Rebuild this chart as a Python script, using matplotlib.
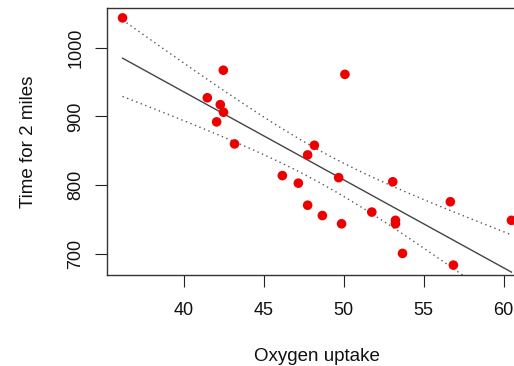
import numpy as np
import matplotlib
matplotlib.use("Agg")
import matplotlib.pyplot as plt

plt.rcParams['font.family'] = ['Liberation Sans', 'DejaVu Sans']

# данные
oxygen = [36.18, 42.48, 41.48, 42.29, 42.49, 42.06, 43.18, 46.17, 47.17, 47.75,
          47.75, 50.08, 48.17, 49.69, 48.67, 49.87, 51.76, 53.07, 53.24, 53.24,
          53.68, 56.67, 56.86, 60.49]
time2mi = [1043, 967, 927, 917, 906, 892, 860, 814, 803, 844,
           771, 961, 858, 811, 756, 744, 761, 805, 749, 744,
           701, 776, 684, 749]
xticks = [40, 45, 50, 55, 60]
yticks = [700, 800, 900, 1000]

x = np.array(oxygen)
y = np.array(time2mi)
n = len(x)

# линейная регрессия и 95% доверительный интервал для среднего
b1, b0 = np.polyfit(x, y, 1)
resid = y - (b0 + b1 * x)
s = np.sqrt(np.sum(resid ** 2) / (n - 2))
sxx = np.sum((x - x.mean()) ** 2)
t_crit = 2.074  # t(0.975, df=22)

xs = np.linspace(x.min(), x.max(), 100)
fit = b0 + b1 * xs
half = t_crit * s * np.sqrt(1 / n + (xs - x.mean()) ** 2 / sxx)

fig = plt.figure(figsize=(5.14, 3.66), dpi=100)
ax = fig.add_axes([107 / 514, 91 / 366, 420 / 514, 267 / 366])

ax.plot(xs, fit, color='#444444', lw=1.0, zorder=2)
ax.plot(xs, fit + half, color='#555555', lw=1.0, ls=(0, (1, 2.5)), zorder=2)
ax.plot(xs, fit - half, color='#555555', lw=1.0, ls=(0, (1, 2.5)), zorder=2)
ax.scatter(x, y, s=48, color='#ee0000', edgecolors='none', zorder=3)

xpad = 0.04 * (x.max() - x.min())
ypad = 0.04 * (y.max() - y.min())
ax.set_xlim(x.min() - xpad, x.max() + xpad)
ax.set_ylim(y.min() - ypad, y.max() + ypad)

ax.set_xticks(xticks)
ax.set_yticks(yticks)
ax.set_yticklabels([str(v) for v in yticks], rotation=90, va='center')
ax.tick_params(length=8.3, width=0.8, labelsize=13, colors='#222222')
ax.tick_params(axis='x', pad=11, labelcolor='#111111')
ax.tick_params(axis='y', pad=8, labelcolor='#111111')

ax.set_xlabel("Oxygen uptake", fontsize=13.5, color='#111111')
ax.set_ylabel("Time for 2 miles", fontsize=13.5, color='#111111')
ax.xaxis.set_label_coords(0.5, -0.273)
ax.yaxis.set_label_coords(-0.167, 0.5)

for sp in ax.spines.values():
    sp.set_color('#333333')
    sp.set_linewidth(1.0)

fig.savefig("out.png", dpi=100)
